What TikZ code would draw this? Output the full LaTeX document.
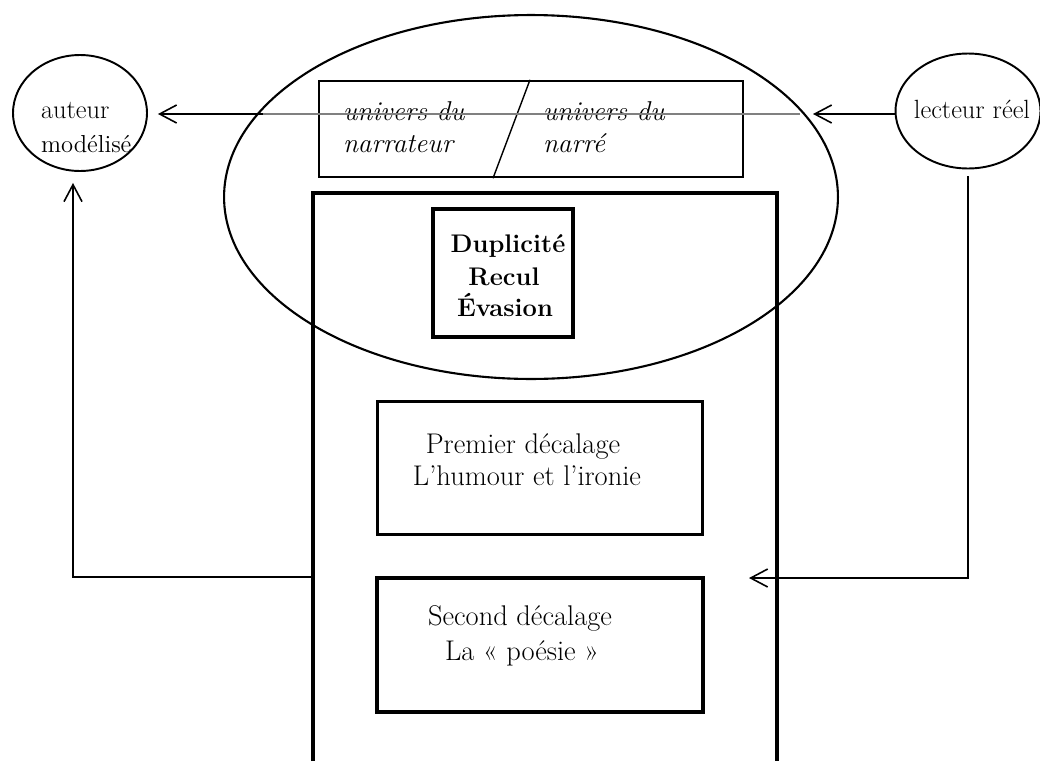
\documentclass[tikz,border=0pt]{standalone}
\usepackage{tikz}
\usetikzlibrary{shapes.geometric,arrows.meta}

\begin{document}
\begin{tikzpicture}[x=0.02cm,y=-0.02cm,
  txt/.style={font=\fontsize{15}{18}\selectfont, inner sep=0pt, outer sep=0pt},
  grand/.style={txt, font=\fontsize{16.2}{19}\selectfont},
  ital/.style={txt, font=\fontsize{15.5}{18}\selectfont\itshape},
  gras/.style={txt, font=\fontsize{14.5}{18}\selectfont\bfseries},
  bulle/.style={draw, ellipse, line width=1.1pt, inner sep=0pt},
  boite/.style={draw, line width=1.8pt, inner sep=0pt},
  fleche/.style={line width=0.9pt, -{Straight Barb[length=3.4mm,width=3.6mm]}}]
\useasboundingbox (0,0) rectangle (1040,761);

\node[bulle, minimum width=2.68cm, minimum height=2.32cm] (auteur) at (80,113) {};
\node[txt, anchor=base west] (auteurA) at (41,118) {auteur};
\node[txt, anchor=base west, font=\fontsize{14}{18}\selectfont] (auteurB) at (41,152) {modélisé};

\node[bulle, minimum width=2.9cm, minimum height=2.3cm] (lecteur) at (968,111) {};
\node[txt, anchor=base] (lecteurA) at (972,118) {lecteur réel};

\node[bulle, line width=1.2pt, minimum width=12.28cm, minimum height=7.28cm] (monde) at (531,197) {};

\node[draw, line width=1.4pt, minimum width=8.48cm, minimum height=1.92cm] (univers) at (531,129) {};
\draw[line width=0.8pt] ([xshift=-0.02cm]univers.north) -- ([xshift=-0.76cm]univers.south);
\node[ital, anchor=base west] (narrateurA) at (343,120) {univers du};
\node[ital, anchor=base west] (narrateurB) at (343,152) {narrateur};
\node[ital, anchor=base west] (narreA) at (543,120) {univers du};
\node[ital, anchor=base west] (narreB) at (543,152) {narré};

\draw[line width=1.8pt] (313,761) -- (313,193) -- (777,193) -- (777,761);

\node[boite, minimum width=2.8cm, minimum height=2.56cm] (traits) at (503,273) {};
\node[gras, anchor=base] (traitsA) at (508,252) {Duplicité};
\node[gras, anchor=base] (traitsB) at (504,285) {Recul};
\node[gras, anchor=base] (traitsC) at (505,316) {Évasion};

\node[boite, minimum width=6.5cm, minimum height=2.66cm] (premier) at (540,468) {};
\node[grand, anchor=base] (premierA) at (523,453) {Premier décalage};
\node[grand, anchor=base] (premierB) at (527,485) {L’humour et l’ironie};

\node[boite, minimum width=6.52cm, minimum height=2.68cm] (second) at (540,645) {};
\node[grand, anchor=base] (secondA) at (520,625) {Second décalage};
\node[grand, anchor=base] (secondB) at (522,660) {La « poésie »};

\coordinate (sortie) at (263,114);
\coordinate (entree) at (813,114);
\coordinate (gauche) at (313,577);
\coordinate (droite) at (749,578);

\draw[gray, line width=0.6pt] (sortie) -- ([xshift=-0.26cm]entree);
\draw[fleche, shorten >=0.2cm] (sortie) -- (auteur.east |- sortie);
\draw[fleche] (lecteur.west |- entree) -- (entree);
\draw[fleche, shorten >=0.22cm] (gauche) -| ([xshift=-0.14cm]auteur.south);
\draw[fleche, shorten <=0.14cm] (lecteur.south) |- (droite);
\end{tikzpicture}
\end{document}
